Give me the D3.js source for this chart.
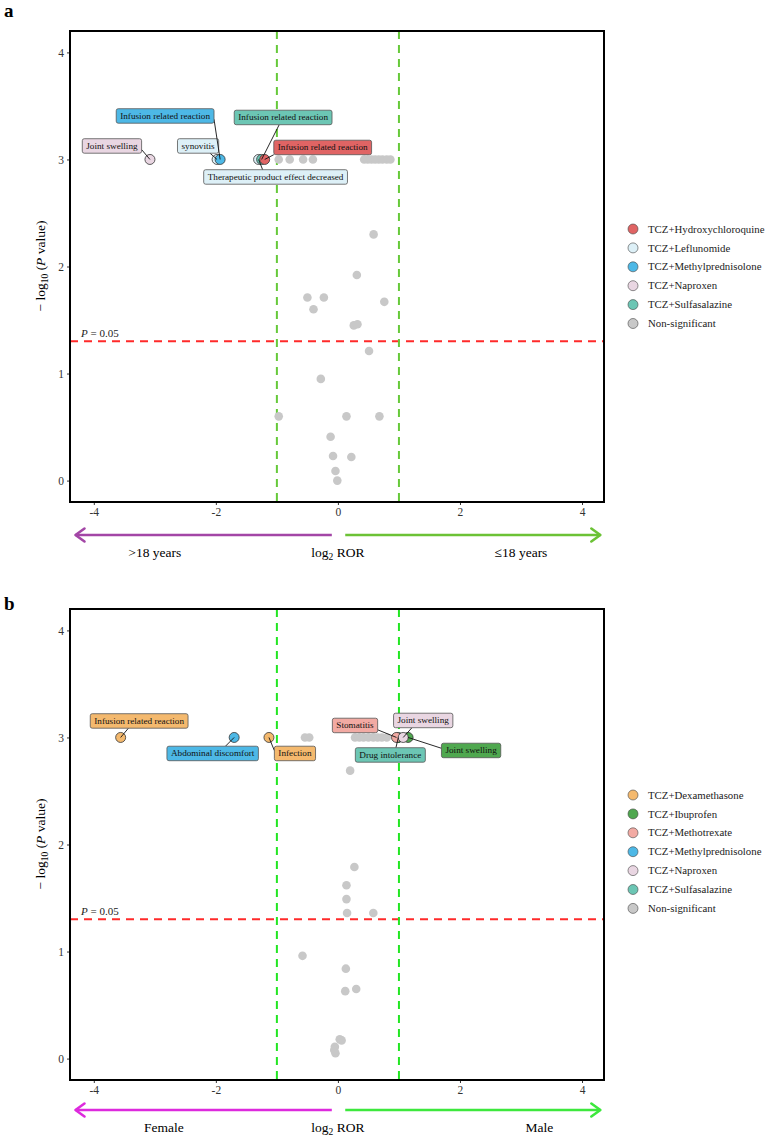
<!DOCTYPE html>
<html><head><meta charset="utf-8">
<script src="https://cdn.jsdelivr.net/npm/d3@7"></script>
<style>
body{margin:0;background:#fff;}
svg text{font-family:"Liberation Serif","Times New Roman",Tinos,"DejaVu Serif",serif !important;}
</style></head>
<body><div id="chart"></div>
<script>
// ---------- DATA ----------
const xTicks = [-4, -2, 0, 2, 4];
const yTicks = [0, 1, 2, 3, 4];

// Panel a: age groups
const aGroups = ["TCZ+Hydroxychloroquine","TCZ+Leflunomide","TCZ+Methylprednisolone","TCZ+Naproxen","TCZ+Sulfasalazine","Non-significant"];
const aColors = ["#E06464","#DDF0F7","#4DB8E6","#E9D6E2","#6CC6B4","#C8C8C8"];
const aSig = [
  {group:"TCZ+Naproxen", x:-3.08, y:3, label:"Joint swelling"},
  {group:"TCZ+Leflunomide", x:-1.98, y:3, label:"synovitis"},
  {group:"TCZ+Methylprednisolone", x:-1.93, y:3, label:"Infusion related reaction"},
  {group:"TCZ+Leflunomide", x:-1.30, y:3, label:"Therapeutic product effect decreased"},
  {group:"TCZ+Sulfasalazine", x:-1.25, y:3, label:"Infusion related reaction"},
  {group:"TCZ+Hydroxychloroquine", x:-1.20, y:3, label:"Infusion related reaction"}
];
const aNsX = [-0.97,-0.79,-0.57,-0.41,0.43,0.49,0.55,0.61,0.67,0.73,0.80,0.86,
  0.585,0.31,-0.50,-0.23,0.76,-0.40,0.26,0.32,0.51,-0.28,-0.97,0.14,0.68,-0.12,-0.08,0.22,-0.04,-0.01];
const aNsY = [3,3,3,3,3,3,3,3,3,3,3,3,
  2.30,1.92,1.71,1.71,1.67,1.60,1.45,1.46,1.21,0.95,0.60,0.60,0.60,0.41,0.23,0.22,0.09,0.0];

// Panel b: sex
const bGroups = ["TCZ+Dexamethasone","TCZ+Ibuprofen","TCZ+Methotrexate","TCZ+Methylprednisolone","TCZ+Naproxen","TCZ+Sulfasalazine","Non-significant"];
const bColors = ["#F4B96E","#4FA84F","#F2AAA3","#4DB8E6","#E9D6E2","#6CC6B4","#C8C8C8"];
const bSig = [
  {group:"TCZ+Dexamethasone", x:-3.56, y:3, label:"Infusion related reaction"},
  {group:"TCZ+Methylprednisolone", x:-1.70, y:3, label:"Abdominal discomfort"},
  {group:"TCZ+Dexamethasone", x:-1.13, y:3, label:"Infection"},
  {group:"TCZ+Ibuprofen", x:1.15, y:3, label:"Joint swelling"},
  {group:"TCZ+Sulfasalazine", x:0.99, y:3, label:"Drug intolerance"},
  {group:"TCZ+Methotrexate", x:0.96, y:3, label:"Stomatitis"},
  {group:"TCZ+Naproxen", x:1.07, y:3, label:"Joint swelling"}
];
const bNsX = [-0.54,-0.47,0.28,0.35,0.42,0.50,0.58,0.65,0.72,0.80,
  0.20,0.27,0.14,0.14,0.15,0.58,-0.58,0.13,0.12,0.30,0.03,0.06,-0.05,-0.06,-0.04];
const bNsY = [3,3,3,3,3,3,3,3,3,3,
  2.69,1.79,1.62,1.49,1.36,1.36,0.96,0.84,0.63,0.65,0.18,0.17,0.11,0.08,0.05];

const pThreshold = 0.05;
const rorCut = 1;

// ---------- LAYOUT (label boxes: offsets from point in px, leader anchor fractions on box) ----------
const aLabelLayout = [
  {dx:-38, dy:-13.5, ax:1, ay:0.75},
  {dx:-19, dy:-13.5, ax:0.79, ay:1},
  {dx:-55, dy:-43.5, ax:1, ay:0.73},
  {dx:17, dy:17.5, ax:0.41, ay:0},
  {dx:21.5, dy:-42, ax:0.46, ay:1},
  {dx:58, dy:-12, ax:0, ay:1}
];
const bLabelLayout = [
  {dx:18.5, dy:-16.5, ax:0.39, ay:1},
  {dx:-21.5, dy:16, ax:0.64, ay:0},
  {dx:26, dy:16, ax:0, ay:0.3},
  {dx:63, dy:13, ax:0, ay:0.35},
  {dx:-8, dy:17.5, ax:0.58, ay:0},
  {dx:-41.5, dy:-12, ax:1, ay:0.8},
  {dx:20, dy:-17, ax:0.31, ay:1}
];

const W = 767, H = 1137;
const FONT = '"Liberation Serif","Times New Roman",Tinos,"DejaVu Serif",serif';
const svg = d3.select("#chart").append("svg").attr("width", W).attr("height", H).attr("font-family", FONT);

function drawPanel(cfg) {
  const g = svg.append("g");
  const x = d3.scaleLinear().domain([-4.39, 4.36]).range([70, 604]);
  const y = d3.scaleLinear().domain([-0.2, 4.2]).range([cfg.top + 471, cfg.top]);
  const bottom = cfg.top + 471;

  // panel letter
  g.append("text").attr("x", 4).attr("y", cfg.letterY).attr("font-size", 19).attr("font-weight", "bold").text(cfg.letter);

  // axes
  const xAxis = d3.axisBottom(x).tickValues(xTicks).tickSize(3).tickPadding(3).tickFormat(d3.format("d"));
  const yAxis = d3.axisLeft(y).tickValues(yTicks).tickSize(3).tickPadding(3).tickFormat(d3.format("d"));
  const gx = g.append("g").attr("transform", `translate(0,${bottom})`).call(xAxis);
  const gy = g.append("g").attr("transform", `translate(70,0)`).call(yAxis);
  [gx, gy].forEach(a => {
    a.attr("font-family", FONT);
    a.select(".domain").remove();
    a.selectAll("text").attr("font-size", 11.5).attr("fill", "#333");
    a.selectAll("line").attr("stroke", "#333");
  });
  gx.selectAll("text").text(d => d < 0 ? "-" + Math.abs(d) : String(d));

  // reference lines
  g.append("line").attr("x1", 70).attr("x2", 604).attr("y1", y(-Math.log10(pThreshold))).attr("y2", y(-Math.log10(pThreshold)))
    .attr("stroke", "#FF2A2A").attr("stroke-width", 2).attr("stroke-dasharray", "8,6");
  [-rorCut, rorCut].forEach(v => {
    g.append("line").attr("x1", x(v)).attr("x2", x(v)).attr("y1", cfg.top).attr("y2", bottom)
      .attr("stroke", cfg.vColor).attr("stroke-width", 2).attr("stroke-dasharray", "8,6");
  });
  const pt = g.append("text").attr("x", x(-4.21)).attr("y", y(-Math.log10(pThreshold)) - 4).attr("font-size", 11).attr("fill", "#222");
  pt.append("tspan").attr("font-style", "italic").text("P");
  pt.append("tspan").text(" = 0.05");

  // non-significant points
  const ns = cfg.nsX.map((v, i) => ({x: v, y: cfg.nsY[i]}));
  g.selectAll("circle.ns").data(ns).enter().append("circle").attr("class", "ns")
    .attr("cx", d => x(d.x)).attr("cy", d => y(d.y)).attr("r", 4.3).attr("fill", "#C8C8C8");

  const color = d3.scaleOrdinal().domain(cfg.groups).range(cfg.colors);

  // significant points
  g.selectAll("circle.sig").data(cfg.sig).enter().append("circle").attr("class", "sig")
    .attr("cx", d => x(d.x)).attr("cy", d => y(d.y)).attr("r", 5)
    .attr("fill", d => color(d.group)).attr("stroke", "#333").attr("stroke-width", 0.8);

  // labels
  const lg = g.append("g");
  cfg.sig.forEach((d, i) => {
    const L = cfg.layout[i];
    const px = x(d.x), py = y(d.y);
    const cx = px + L.dx, cy = py + L.dy;
    const t = lg.append("text").attr("font-size", 9.2).attr("text-anchor", "middle").attr("x", cx).attr("y", cy + 3).attr("fill", "#111").text(d.label);
    const tw = t.node().getComputedTextLength();
    const bw = tw + 8, bh = 14.5;
    const bx = cx - bw / 2, by = cy - bh / 2;
    lg.insert("line", "text").attr("x1", px).attr("y1", py).attr("x2", bx + L.ax * bw).attr("y2", by + L.ay * bh)
      .attr("stroke", "#111").attr("stroke-width", 0.9);
    lg.insert("rect", "text").attr("x", bx).attr("y", by).attr("width", bw).attr("height", bh).attr("rx", 2)
      .attr("fill", color(d.group)).attr("stroke", "#555").attr("stroke-width", 0.8);
    t.raise();
  });

  // frame
  g.append("rect").attr("x", 70).attr("y", cfg.top).attr("width", 534).attr("height", 471)
    .attr("fill", "none").attr("stroke", "#000").attr("stroke-width", 2);

  // y-axis title
  const yt = g.append("text").attr("transform", `translate(45,${cfg.top + 235}) rotate(-90)`).attr("text-anchor", "middle").attr("font-size", 13.5);
  yt.append("tspan").text("− log");
  yt.append("tspan").attr("font-size", 9.5).attr("dy", 3).text("10");
  yt.append("tspan").attr("dy", -3).text(" (");
  yt.append("tspan").attr("font-style", "italic").text("P");
  yt.append("tspan").text("  value)");

  // legend
  const leg = g.append("g");
  cfg.groups.forEach((grp, i) => {
    const ly = cfg.legendTop + i * 18.9;
    leg.append("circle").attr("cx", 633).attr("cy", ly).attr("r", 5).attr("fill", cfg.colors[i]).attr("stroke", "#444").attr("stroke-width", 0.6);
    leg.append("text").attr("x", 648).attr("y", ly + 3.6).attr("font-size", 10.8).attr("fill", "#222").text(grp);
  });

  // arrows
  const ay = bottom + cfg.arrowOff;
  function arrow(x1, x2, col) {
    g.append("line").attr("x1", x(x1)).attr("x2", x(x2)).attr("y1", ay).attr("y2", ay).attr("stroke", col).attr("stroke-width", 2.6);
    const dir = x2 > x1 ? -1 : 1;
    const tip = x(x2);
    g.append("path").attr("d", `M${tip + dir * 9},${ay - 6.5} L${tip},${ay} L${tip + dir * 9},${ay + 6.5}`)
      .attr("fill", "none").attr("stroke", col).attr("stroke-width", 2.6).attr("stroke-linecap", "round").attr("stroke-linejoin", "round");
  }
  arrow(-0.1, -4.3, cfg.leftColor);
  arrow(0.12, 4.3, cfg.rightColor);
  const ty = bottom + cfg.textOff;
  g.append("text").attr("x", x(cfg.leftLabelX)).attr("y", ty).attr("text-anchor", "middle").attr("font-size", 13.5).text(cfg.leftLabel);
  g.append("text").attr("x", x(cfg.rightLabelX)).attr("y", ty).attr("text-anchor", "middle").attr("font-size", 13.5).text(cfg.rightLabel);
  const xt = g.append("text").attr("x", x(0)).attr("y", ty).attr("text-anchor", "middle").attr("font-size", 13.5);
  xt.append("tspan").text("log");
  xt.append("tspan").attr("font-size", 9.5).attr("dy", 3).text("2");
  xt.append("tspan").attr("dy", -3).text(" ROR");
}

drawPanel({top: 31, letter: "a", letterY: 17, groups: aGroups, colors: aColors, sig: aSig, layout: aLabelLayout,
  nsX: aNsX, nsY: aNsY, vColor: "#66C93A", legendTop: 229, leftColor: "#A346A6", rightColor: "#6CC236",
  leftLabel: ">18 years", rightLabel: "≤18 years", leftLabelX: -3, rightLabelX: 3, arrowOff: 33, textOff: 55});
drawPanel({top: 609, letter: "b", letterY: 610, groups: bGroups, colors: bColors, sig: bSig, layout: bLabelLayout,
  nsX: bNsX, nsY: bNsY, vColor: "#22E622", legendTop: 795, leftColor: "#DD2ADD", rightColor: "#3DE83D",
  leftLabel: "Female", rightLabel: "Male", leftLabelX: -2.85, rightLabelX: 3.3, arrowOff: 30, textOff: 52});
</script></body></html>
